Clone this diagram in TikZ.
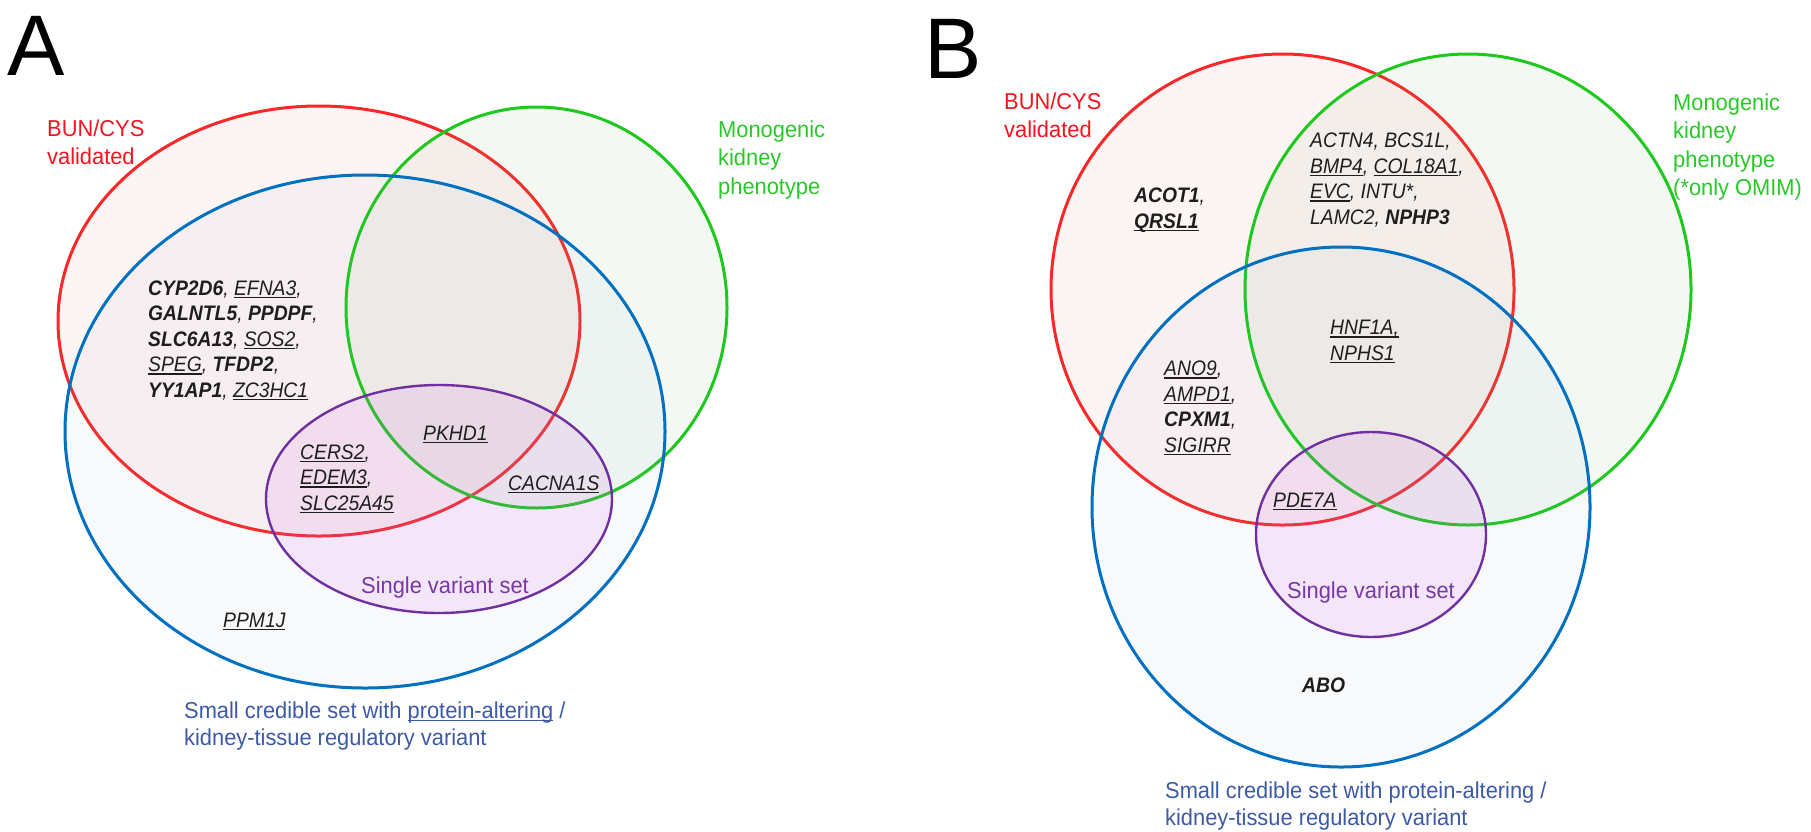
\documentclass[tikz,border=0pt]{standalone}
\usepackage{fontspec}
\setmainfont{Liberation Sans}
\newfontfamily\genefont[FakeStretch=0.92]{Liberation Sans}
\newfontfamily\labelfont[FakeStretch=0.95]{Liberation Sans}
\usepackage{tikz}
\usetikzlibrary{positioning}

\definecolor{setred}{RGB}{250,40,40}
\definecolor{setgreen}{RGB}{30,200,30}
\definecolor{setblue}{RGB}{0,112,192}
\definecolor{setpurple}{RGB}{112,48,160}
\definecolor{redtint}{RGB}{235,110,110}
\definecolor{greentint}{RGB}{118,168,105}
\definecolor{bluetint}{RGB}{122,155,188}
\definecolor{purpletint}{RGB}{205,95,225}
\definecolor{labelred}{RGB}{245,20,30}
\definecolor{labelgreen}{RGB}{40,200,40}
\definecolor{labelpurple}{RGB}{120,55,165}
\definecolor{captionblue}{RGB}{60,90,165}
\definecolor{genegray}{RGB}{30,30,30}

% bold gene, underlined gene
\newcommand{\gb}[1]{{\bfseries #1}}
\newcommand{\gu}[1]{\leavevmode\begingroup\setbox0=\hbox{#1}\rlap{\rule[-3.2pt]{\wd0}{1.5pt}}\box0\endgroup}

\begin{document}
\begin{tikzpicture}[x=1pt,y=-1pt,
  venn/.style={line width=3pt},
  gene/.style={anchor=base west,inner sep=0pt,align=left,text=genegray,
    font=\genefont\fontsize{21}{25.5}\selectfont\itshape},
  setlabel/.style={anchor=base west,inner sep=0pt,align=left,
    font=\labelfont\fontsize{23}{28.5}\selectfont},
  caption/.style={anchor=base west,inner sep=0pt,align=left,text=captionblue,
    font=\labelfont\fontsize{23}{27}\selectfont},
  panel/.style={anchor=base west,inner sep=0pt,font=\fontsize{86}{86}\selectfont}]
\useasboundingbox (0,0) rectangle (1811,831);

% panel A (multi-line nodes sit on their last line)
\draw[setred,venn,fill=redtint,fill opacity=.08] (319,321) ellipse [x radius=261,y radius=215];
\draw[setgreen,venn,fill=greentint,fill opacity=.08] (536.5,307.5) ellipse [x radius=190.5,y radius=200.5];
\draw[setblue,venn,fill=bluetint,fill opacity=.06] (365,431.5) ellipse [x radius=300,y radius=256.5];
\draw[setpurple,venn,line width=2.4pt,fill=purpletint,fill opacity=.12] (439,499) ellipse [x radius=173,y radius=114];

\node (A) at (7,75)[panel] {A};
\node (bunA) at (47,164.5)[setlabel,text=labelred] {BUN/CYS\\validated};
\node (monoA) at (718,194)[setlabel,text=labelgreen] {Monogenic\\kidney\\phenotype};
\node (redblueA) at (148,397)[gene] {\gb{CYP2D6}, \gu{EFNA3},\\ \gb{GALNTL5}, \gb{PPDPF},\\ \gb{SLC6A13}, \gu{SOS2},\\ \gu{SPEG}, \gb{TFDP2},\\ \gb{YY1AP1}, \gu{ZC3HC1}};
\node (pkhd) at (423,440)[gene] {\gu{PKHD1}};
\node (cers) at (300,510)[gene] {\gu{CERS2},\\ \gu{EDEM3},\\ \gu{SLC25A45}};
\node (cacna) at (508,490)[gene] {\gu{CACNA1S}};
\node (singleA) at (361,593)[setlabel,text=labelpurple] {Single variant set};
\node (ppm) at (223,627)[gene] {\gu{PPM1J}};
\node (capA) at (184,745)[caption] {Small credible set with \gu{protein-altering} /\\kidney-tissue regulatory variant};

% panel B
\draw[setred,venn,fill=redtint,fill opacity=.08] (1282.5,289.5) ellipse [x radius=231.5,y radius=235.5];
\draw[setgreen,venn,fill=greentint,fill opacity=.08] (1468,289.5) ellipse [x radius=223,y radius=235.5];
\draw[setblue,venn,fill=bluetint,fill opacity=.06] (1341,507) ellipse [x radius=249,y radius=260];
\draw[setpurple,venn,line width=2.4pt,fill=purpletint,fill opacity=.12] (1371,534.5) ellipse [x radius=115,y radius=102.5];

\node (B) at (924,78)[panel] {B};
\node (bunB) at (1004,137.5)[setlabel,text=labelred] {BUN/CYS\\validated};
\node (monoB) at (1673,195.5)[setlabel,text=labelgreen] {Monogenic\\kidney\\phenotype\\(*only OMIM)};
\node (acot) at (1134,228)[gene] {\gb{ACOT1},\\ \gu{\gb{QRSL1}}};
\node (actn) at (1310,224)[gene] {ACTN4, BCS1L,\\ \gu{BMP4}, \gu{COL18A1},\\ \gu{EVC}, INTU*,\\ LAMC2, \gb{NPHP3}};
\node (hnf) at (1330,360)[gene] {\gu{HNF1A,}\\ \gu{NPHS1}};
\node (ano) at (1164,452)[gene] {\gu{ANO9},\\ \gu{AMPD1},\\ \gb{CPXM1},\\ \gu{SIGIRR}};
\node (pde) at (1273,507)[gene] {\gu{PDE7A}};
\node (singleB) at (1287,598)[setlabel,text=labelpurple] {Single variant set};
\node (abo) at (1302,692)[gene] {\gb{ABO}};
\node (capB) at (1165,825)[caption] {Small credible set with protein-altering /\\kidney-tissue regulatory variant};
\end{tikzpicture}
\end{document}
